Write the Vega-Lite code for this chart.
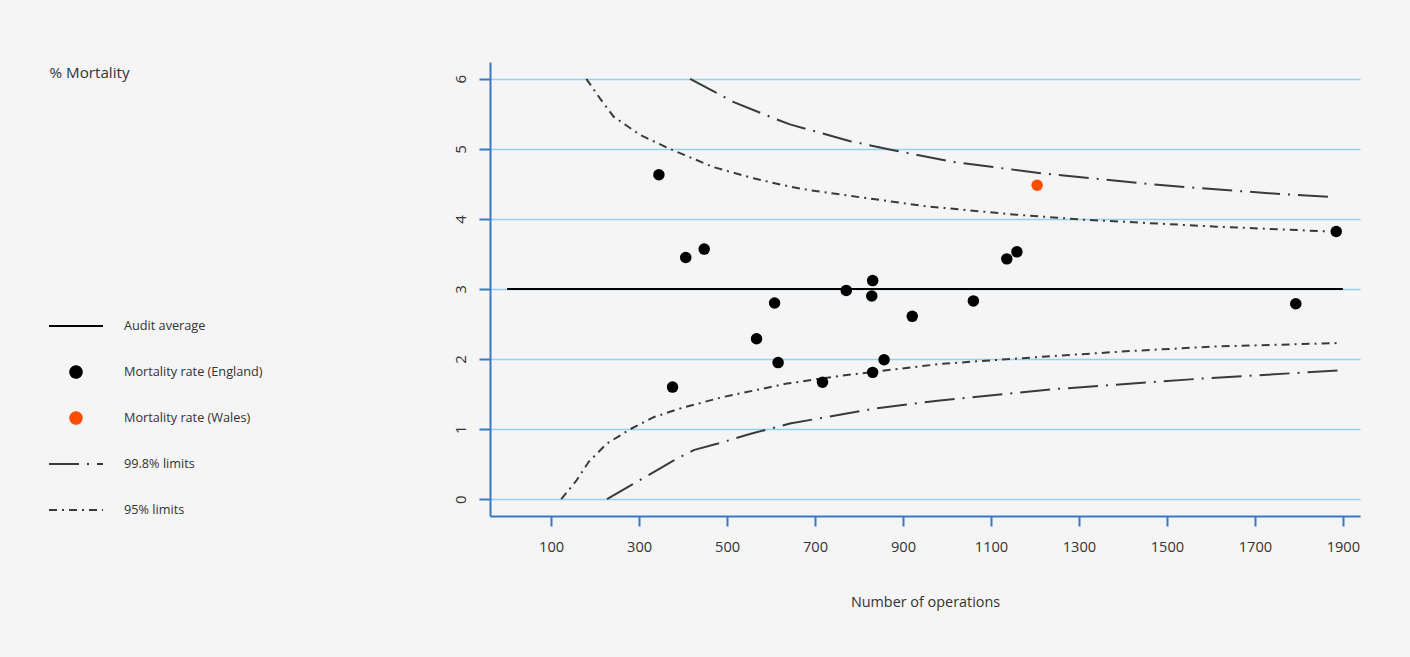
{
  "$schema": "https://vega.github.io/schema/vega-lite/v6.json",
  "width": 870,
  "height": 454,
  "autosize": {"type": "none"},
  "padding": {"left": 490, "top": 62, "right": 50, "bottom": 141},
  "background": "#f5f5f5",
  "config": {
    "view": {"stroke": null},
    "font": "Open Sans",
    "legend": {
      "orient": "none",
      "legendX": -442,
      "legendY": 254,
      "clipHeight": 20,
      "rowPadding": 26,
      "labelOffset": 20,
      "symbolOffset": 0,
      "symbolStrokeWidth": 2,
      "labelFont": "Open Sans",
      "labelFontSize": 12.7,
      "labelColor": "#333333",
      "labelLimit": 400,
      "padding": 0
    }
  },
  "datasets": {
    "lines": [
      {"series": "Audit average", "curve": "avg", "n": 0, "rate": 3},
      {"series": "Audit average", "curve": "avg", "n": 1900, "rate": 3},
      {"series": "99.8% limits", "curve": "u998", "n": 416, "rate": 6.0},
      {"series": "99.8% limits", "curve": "u998", "n": 476, "rate": 5.8},
      {"series": "99.8% limits", "curve": "u998", "n": 514, "rate": 5.67},
      {"series": "99.8% limits", "curve": "u998", "n": 613, "rate": 5.42},
      {"series": "99.8% limits", "curve": "u998", "n": 643, "rate": 5.35},
      {"series": "99.8% limits", "curve": "u998", "n": 780, "rate": 5.11},
      {"series": "99.8% limits", "curve": "u998", "n": 878, "rate": 4.98},
      {"series": "99.8% limits", "curve": "u998", "n": 1018, "rate": 4.81},
      {"series": "99.8% limits", "curve": "u998", "n": 1105, "rate": 4.74},
      {"series": "99.8% limits", "curve": "u998", "n": 1218, "rate": 4.65},
      {"series": "99.8% limits", "curve": "u998", "n": 1332, "rate": 4.58},
      {"series": "99.8% limits", "curve": "u998", "n": 1439, "rate": 4.51},
      {"series": "99.8% limits", "curve": "u998", "n": 1552, "rate": 4.45},
      {"series": "99.8% limits", "curve": "u998", "n": 1658, "rate": 4.4},
      {"series": "99.8% limits", "curve": "u998", "n": 1772, "rate": 4.35},
      {"series": "99.8% limits", "curve": "u998", "n": 1883, "rate": 4.31},
      {"series": "99.8% limits", "curve": "l998", "n": 227, "rate": 0.0},
      {"series": "99.8% limits", "curve": "l998", "n": 287, "rate": 0.22},
      {"series": "99.8% limits", "curve": "l998", "n": 340, "rate": 0.41},
      {"series": "99.8% limits", "curve": "l998", "n": 378, "rate": 0.55},
      {"series": "99.8% limits", "curve": "l998", "n": 424, "rate": 0.7},
      {"series": "99.8% limits", "curve": "l998", "n": 477, "rate": 0.79},
      {"series": "99.8% limits", "curve": "l998", "n": 552, "rate": 0.93},
      {"series": "99.8% limits", "curve": "l998", "n": 643, "rate": 1.08},
      {"series": "99.8% limits", "curve": "l998", "n": 833, "rate": 1.29},
      {"series": "99.8% limits", "curve": "l998", "n": 984, "rate": 1.41},
      {"series": "99.8% limits", "curve": "l998", "n": 1242, "rate": 1.57},
      {"series": "99.8% limits", "curve": "l998", "n": 1575, "rate": 1.72},
      {"series": "99.8% limits", "curve": "l998", "n": 1898, "rate": 1.84},
      {"series": "95% limits", "curve": "u95", "n": 180, "rate": 6.0},
      {"series": "95% limits", "curve": "u95", "n": 211, "rate": 5.72},
      {"series": "95% limits", "curve": "u95", "n": 242, "rate": 5.46},
      {"series": "95% limits", "curve": "u95", "n": 302, "rate": 5.2},
      {"series": "95% limits", "curve": "u95", "n": 370, "rate": 5.0},
      {"series": "95% limits", "curve": "u95", "n": 469, "rate": 4.74},
      {"series": "95% limits", "curve": "u95", "n": 560, "rate": 4.58},
      {"series": "95% limits", "curve": "u95", "n": 643, "rate": 4.46},
      {"series": "95% limits", "curve": "u95", "n": 689, "rate": 4.41},
      {"series": "95% limits", "curve": "u95", "n": 802, "rate": 4.31},
      {"series": "95% limits", "curve": "u95", "n": 954, "rate": 4.18},
      {"series": "95% limits", "curve": "u95", "n": 1158, "rate": 4.06},
      {"series": "95% limits", "curve": "u95", "n": 1309, "rate": 3.99},
      {"series": "95% limits", "curve": "u95", "n": 1461, "rate": 3.94},
      {"series": "95% limits", "curve": "u95", "n": 1613, "rate": 3.89},
      {"series": "95% limits", "curve": "u95", "n": 1764, "rate": 3.85},
      {"series": "95% limits", "curve": "u95", "n": 1870, "rate": 3.82},
      {"series": "95% limits", "curve": "l95", "n": 123, "rate": 0.0},
      {"series": "95% limits", "curve": "l95", "n": 158, "rate": 0.27},
      {"series": "95% limits", "curve": "l95", "n": 185, "rate": 0.53},
      {"series": "95% limits", "curve": "l95", "n": 226, "rate": 0.79},
      {"series": "95% limits", "curve": "l95", "n": 280, "rate": 1.0},
      {"series": "95% limits", "curve": "l95", "n": 333, "rate": 1.17},
      {"series": "95% limits", "curve": "l95", "n": 401, "rate": 1.31},
      {"series": "95% limits", "curve": "l95", "n": 492, "rate": 1.46},
      {"series": "95% limits", "curve": "l95", "n": 636, "rate": 1.65},
      {"series": "95% limits", "curve": "l95", "n": 757, "rate": 1.76},
      {"series": "95% limits", "curve": "l95", "n": 984, "rate": 1.93},
      {"series": "95% limits", "curve": "l95", "n": 1257, "rate": 2.05},
      {"series": "95% limits", "curve": "l95", "n": 1431, "rate": 2.12},
      {"series": "95% limits", "curve": "l95", "n": 1613, "rate": 2.18},
      {"series": "95% limits", "curve": "l95", "n": 1897, "rate": 2.23}
    ],
    "points": [
      {"series": "Mortality rate (England)", "n": 345, "rate": 4.63},
      {"series": "Mortality rate (England)", "n": 406, "rate": 3.45},
      {"series": "Mortality rate (England)", "n": 448, "rate": 3.57},
      {"series": "Mortality rate (England)", "n": 376, "rate": 1.6},
      {"series": "Mortality rate (England)", "n": 567, "rate": 2.29},
      {"series": "Mortality rate (England)", "n": 608, "rate": 2.8},
      {"series": "Mortality rate (England)", "n": 616, "rate": 1.95},
      {"series": "Mortality rate (England)", "n": 717, "rate": 1.67},
      {"series": "Mortality rate (England)", "n": 771, "rate": 2.98},
      {"series": "Mortality rate (England)", "n": 831, "rate": 3.12},
      {"series": "Mortality rate (England)", "n": 829, "rate": 2.9},
      {"series": "Mortality rate (England)", "n": 921, "rate": 2.61},
      {"series": "Mortality rate (England)", "n": 857, "rate": 1.99},
      {"series": "Mortality rate (England)", "n": 831, "rate": 1.81},
      {"series": "Mortality rate (England)", "n": 1060, "rate": 2.83},
      {"series": "Mortality rate (England)", "n": 1136, "rate": 3.43},
      {"series": "Mortality rate (England)", "n": 1159, "rate": 3.53},
      {"series": "Mortality rate (England)", "n": 1793, "rate": 2.79},
      {"series": "Mortality rate (England)", "n": 1885, "rate": 3.82},
      {"series": "Mortality rate (Wales)", "n": 1205, "rate": 4.48}
    ]
  },
  "encoding": {
    "x": {
      "field": "n",
      "type": "quantitative",
      "scale": {"domain": [-39, 1939], "nice": false, "zero": false},
      "axis": {
        "values": [100, 300, 500, 700, 900, 1100, 1300, 1500, 1700, 1900],
        "format": "d",
        "title": "Number of operations",
        "grid": false,
        "domainColor": "#3a78c4",
        "domainWidth": 2,
        "tickColor": "#3a78c4",
        "tickWidth": 2,
        "tickSize": 10,
        "labelFont": "Open Sans",
        "labelFontSize": 14.6,
        "labelColor": "#333333",
        "labelBaseline": "alphabetic",
        "labelPadding": 25,
        "labelFlush": false,
        "labelOverlap": false,
        "titleFont": "Open Sans",
        "titleFontSize": 14.4,
        "titleFontWeight": "normal",
        "titleColor": "#333333",
        "titleBaseline": "alphabetic",
        "titleY": 90
      }
    },
    "y": {
      "field": "rate",
      "type": "quantitative",
      "scale": {"domain": [-0.24, 6.24], "nice": false, "zero": false},
      "axis": {
        "values": [0, 1, 2, 3, 4, 5, 6],
        "title": "% Mortality",
        "titleAngle": 0,
        "titleAlign": "left",
        "titleBaseline": "alphabetic",
        "titleX": -441,
        "titleY": 15.5,
        "titleFont": "Open Sans",
        "titleFontSize": 15.2,
        "titleFontWeight": "normal",
        "titleColor": "#333333",
        "grid": true,
        "gridColor": "#94d2f5",
        "gridWidth": 1.5,
        "domainColor": "#3a78c4",
        "domainWidth": 2,
        "tickColor": "#3a78c4",
        "tickWidth": 2,
        "tickSize": 11,
        "labelAngle": 270,
        "labelAlign": "center",
        "labelBaseline": "alphabetic",
        "labelPadding": 14,
        "labelFont": "Open Sans",
        "labelFontSize": 15,
        "labelColor": "#333333",
        "labelFlush": false,
        "labelOverlap": false
      }
    }
  },
  "layer": [
    {
      "data": {"name": "lines"},
      "mark": {"type": "line", "strokeWidth": 2},
      "encoding": {
        "detail": {"field": "curve"},
        "order": {"field": "n", "type": "quantitative"},
        "color": {
          "field": "series",
          "type": "nominal",
          "scale": {
            "domain": ["Audit average", "Mortality rate (England)", "Mortality rate (Wales)", "99.8% limits", "95% limits"],
            "range": ["#000000", "#000000", "#ff4d00", "#3a3a3a", "#3a3a3a"]
          },
          "legend": {"title": null, "orient": "none", "legendX": -442, "legendY": 254}
        },
        "strokeDash": {
          "field": "series",
          "type": "nominal",
          "scale": {
            "domain": ["Audit average", "Mortality rate (England)", "Mortality rate (Wales)", "99.8% limits", "95% limits"],
            "range": [[1, 0], [1, 0], [1, 0], [30, 8, 2, 8], [8, 5, 2, 5]]
          },
          "legend": {"title": null, "orient": "none", "legendX": -442, "legendY": 254}
        }
      }
    },
    {
      "data": {"name": "points"},
      "mark": {"type": "point", "filled": true, "opacity": 1},
      "encoding": {
        "color": {
          "field": "series",
          "type": "nominal",
          "scale": {
            "domain": ["Audit average", "Mortality rate (England)", "Mortality rate (Wales)", "99.8% limits", "95% limits"],
            "range": ["#000000", "#000000", "#ff4d00", "#3a3a3a", "#3a3a3a"]
          },
          "legend": {"title": null, "orient": "none", "legendX": -442, "legendY": 254}
        },
        "shape": {
          "field": "series",
          "type": "nominal",
          "scale": {
            "domain": ["Audit average", "Mortality rate (England)", "Mortality rate (Wales)", "99.8% limits", "95% limits"],
            "range": ["stroke", "circle", "circle", "stroke", "stroke"]
          },
          "legend": {"title": null, "orient": "none", "legendX": -442, "legendY": 254}
        },
        "size": {
          "field": "series",
          "type": "nominal",
          "scale": {
            "type": "ordinal",
            "domain": ["Audit average", "Mortality rate (England)", "Mortality rate (Wales)", "99.8% limits", "95% limits"],
            "range": [2916, 132, 132, 2916, 2916]
          },
          "legend": {"title": null, "orient": "none", "legendX": -442, "legendY": 254}
        }
      }
    }
  ]
}
